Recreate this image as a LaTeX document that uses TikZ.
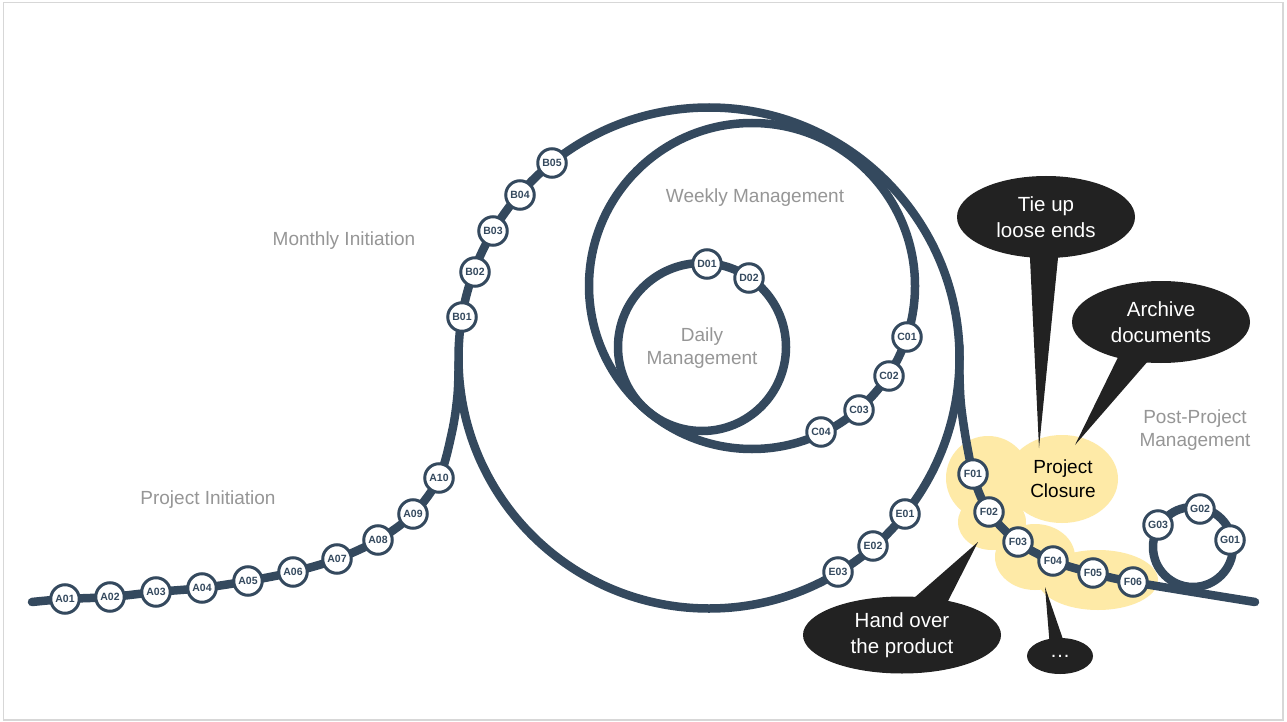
\documentclass[tikz,border=0pt]{standalone}
\usepackage{fontspec}
\setmainfont{Liberation Sans}
\usetikzlibrary{backgrounds,shapes.geometric}
\definecolor{navy}{RGB}{52,73,94}
\definecolor{lblgray}{RGB}{150,150,150}
\definecolor{blobyellow}{RGB}{254,234,167}
\definecolor{bubblegray}{RGB}{34,34,34}
\definecolor{framegray}{RGB}{215,215,215}
\begin{document}
\begin{tikzpicture}[x=1pt,y=-1pt,
  track/.style={draw=navy,line width=8.5pt,line cap=round},
  stn/.style={circle,draw=navy,line width=3pt,fill=white,minimum size=28.5pt,inner sep=0pt,text=navy,font=\fontsize{10.5}{12}\selectfont\bfseries},
  phase/.style={text=lblgray,font=\fontsize{19}{23}\selectfont,align=center},
  bubble/.style={ellipse,fill=bubblegray,inner sep=0pt,text=white,font=\fontsize{20.5}{26}\selectfont,align=center},
  tail/.style={fill=bubblegray},
  blob/.style={fill=blobyellow}]
\useasboundingbox (0,0) rectangle (1287,722);

% stations
\node[stn] (A01) at (65,599) {A01};
\node[stn] (A02) at (110,597) {A02};
\node[stn] (A03) at (156,592) {A03};
\node[stn] (A04) at (202,588) {A04};
\node[stn] (A05) at (248,581) {A05};
\node[stn] (A06) at (293,572) {A06};
\node[stn] (A07) at (337,559) {A07};
\node[stn] (A08) at (378,540) {A08};
\node[stn] (A09) at (413,514) {A09};
\node[stn] (A10) at (439,478) {A10};
\node[stn] (B01) at (462,317) {B01};
\node[stn] (B02) at (475,272) {B02};
\node[stn] (B03) at (493,231) {B03};
\node[stn] (B04) at (520,195) {B04};
\node[stn] (B05) at (552,163) {B05};
\node[stn] (C01) at (907,337) {C01};
\node[stn] (C02) at (889,376) {C02};
\node[stn] (C03) at (859,410) {C03};
\node[stn] (C04) at (821,432) {C04};
\node[stn] (D01) at (707,264) {D01};
\node[stn] (D02) at (749,278) {D02};
\node[stn] (E01) at (905,514) {E01};
\node[stn] (E02) at (873,546) {E02};
\node[stn] (E03) at (838,572) {E03};
\node[stn] (F01) at (973,474) {F01};
\node[stn] (F02) at (989,512) {F02};
\node[stn] (F03) at (1018,542) {F03};
\node[stn] (F04) at (1053,561) {F04};
\node[stn] (F05) at (1093,573) {F05};
\node[stn] (F06) at (1133,582) {F06};
\node[stn] (G01) at (1230,540) {G01};
\node[stn] (G02) at (1200,509) {G02};
\node[stn] (G03) at (1158,525) {G03};

\coordinate (startA) at (32,602);
\coordinate (endF) at (1255,602);
\coordinate (monthC) at (709,358);
\coordinate (weekC) at (752,286);
\coordinate (dayC) at (702,347);
\coordinate (postC) at (1193,547);

\begin{scope}[on background layer]
  \fill[white] (0,0) rectangle (1287,722);
  \draw[framegray,line width=1.5pt] (3.5,2.5) rectangle (1283,720);
  % project closure cloud
  \fill[blob] (988,478) circle[radius=42];
  \fill[blob] (1062,479) ellipse[x radius=56,y radius=44];
  \fill[blob] (992,522) ellipse[x radius=34,y radius=28];
  \fill[blob] (1035,557) ellipse[x radius=40,y radius=33];
  \fill[blob] (1098,580) ellipse[x radius=60,y radius=30];
  % tracks
  \draw[track] plot[smooth,tension=0.55] coordinates {(startA) (A01.center) (A02.center) (A03.center) (A04.center) (A05.center) (A06.center) (A07.center) (A08.center) (A09.center) (A10.center) (452,432) (457.5,395) (458.6,362)};
  \draw[track] (monthC) circle[radius=250.5];
  \draw[track] (weekC) circle[radius=163];
  \draw[track] (dayC) circle[radius=84];
  \draw[track] plot[smooth,tension=0.55] coordinates {(959.3,345) (961,405) (F01.center) (F02.center) (F03.center) (F04.center) (F05.center) (F06.center) (endF)};
  \draw[track] (postC) circle[radius=40];
\end{scope}

% phase labels
\node[phase] (lblPI) at (208,500) {Project Initiation};
\node[phase] (lblMI) at (344,241) {Monthly Initiation};
\node[phase] (lblWM) at (755,198) {Weekly Management};
\node[phase] (lblDM) at (702,348) {Daily\\Management};
\node[phase] (lblPP) at (1195,430) {Post-Project\\Management};
\node[font=\fontsize{19}{24}\selectfont,align=center,text=black] (lblPC) at (1063,479) {Project\\Closure};

% callouts
\fill[tail] (1029.6,250) -- (1039,448) -- (1058.8,250) -- cycle;
\node[bubble,minimum width=178pt,minimum height=82pt] (tie) at (1046,217) {Tie up\\loose ends};
\fill[tail] (1124,345) -- (1075,445) -- (1162,345) -- cycle;
\node[bubble,minimum width=178pt,minimum height=82pt] (arch) at (1161,322) {Archive\\documents};
\fill[tail] (906,605) -- (978,542) -- (946,605) -- cycle;
\node[bubble,minimum width=198pt,minimum height=77pt] (hand) at (902,635) {Hand over\\the product};
\fill[tail] (1050,648) -- (1045,587) -- (1066,648) -- cycle;
\node[bubble,minimum width=66pt,minimum height=36pt] (more) at (1060,656) {…};
\end{tikzpicture}
\end{document}
